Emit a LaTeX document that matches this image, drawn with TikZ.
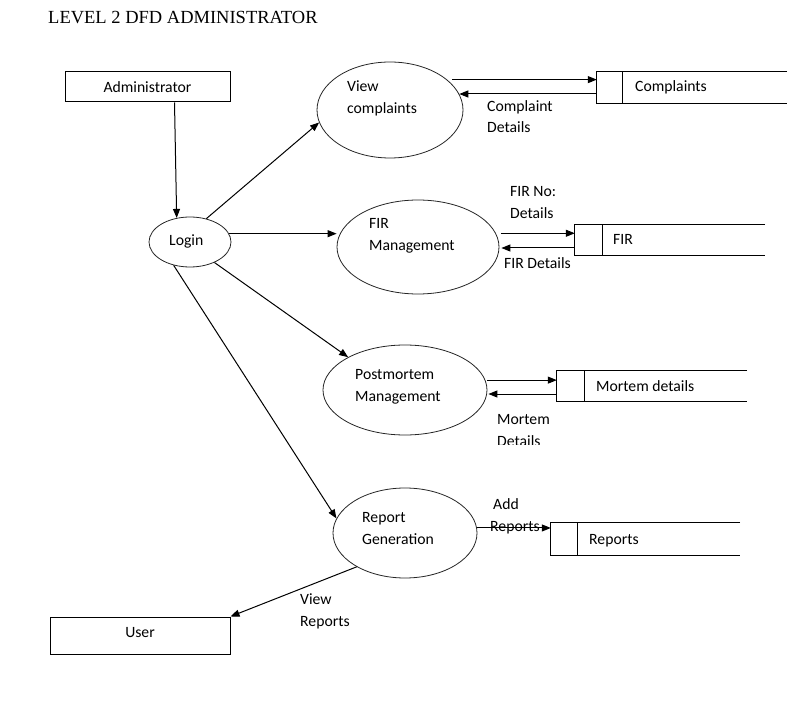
\documentclass[tikz,border=0pt]{standalone}
\usepackage{fontspec}
\setmainfont{Carlito}
\newfontfamily\titlefont{Liberation Serif}
\usetikzlibrary{shapes.geometric,arrows.meta}
\begin{document}
\begin{tikzpicture}[x=1pt,y=-1pt,
  font=\fontsize{15.7}{18}\selectfont,
  proc/.style={draw=black!85,line width=0.8pt,ellipse,inner sep=0pt},
  entity/.style={draw,line width=1pt,rectangle,inner sep=0pt},
  storebox/.style={rectangle,inner sep=0pt},
  lbl/.style={anchor=base west,inner sep=0pt},
  flow/.style={line width=1pt,-{Triangle[length=9pt,width=7pt]}},
  storeline/.style={line width=1pt}]
\useasboundingbox (0,0) rectangle (797,708);
\fill[white] (0,0) rectangle (797,708);

% title
\node[lbl,font=\titlefont\fontsize{18.5}{21}\selectfont] (title) at (48,24) {LEVEL 2 DFD ADMINISTRATOR};

% external entities
\node[entity,minimum width=165pt,minimum height=30pt] (adm) at (147.5,87) {Administrator};
\node[entity,minimum width=180pt,minimum height=37pt,text depth=6pt] (user) at (140,635.5) {User};

% processes
\node[proc,minimum width=146pt,minimum height=96pt] (vc) at (390,110) {};
\node[proc,minimum width=82pt,minimum height=50pt] (login) at (190,242) {};
\node[proc,minimum width=162pt,minimum height=94pt] (fir) at (418,247) {};
\node[proc,minimum width=164pt,minimum height=90pt] (pm) at (405,390) {};
\node[proc,minimum width=144pt,minimum height=90pt] (rg) at (405,533) {};

\node[lbl] (vct1) at (347,92) {View};
\node[lbl] (vct2) at (347,114) {complaints};
\node[lbl] (logt) at (169,246) {Login};
\node[lbl] (firt1) at (369,229) {FIR};
\node[lbl] (firt2) at (369,251) {Management};
\node[lbl] (pmt1) at (355,379) {Postmortem};
\node[lbl] (pmt2) at (355,401) {Management};
\node[lbl] (rgt1) at (362,522) {Report};
\node[lbl] (rgt2) at (362,544) {Generation};

% data stores
\node[storebox,minimum width=190pt,minimum height=31pt] (cs) at (692,87.5) {};
\node[storebox,minimum width=190pt,minimum height=30pt] (fs) at (670,240) {};
\node[storebox,minimum width=190pt,minimum height=30pt] (ms) at (652,386) {};
\node[storebox,minimum width=189pt,minimum height=32pt] (rs) at (645.5,539) {};

\foreach \s/\d in {cs/26,fs/28,ms/28,rs/27}{
  \draw[storeline] (\s.north east) -- (\s.north west) -- (\s.south west) -- (\s.south east);
  \draw[storeline] ([xshift=\d pt]\s.north west) -- ([xshift=\d pt]\s.south west);
}
\node[lbl] (cst) at (635,92) {Complaints};
\node[lbl] (fst) at (613,245) {FIR};
\node[lbl] (mst) at (596,391) {Mortem details};
\node[lbl] (rst) at (589,544) {Reports};

% flows
\draw[flow] ([xshift=27pt]adm.south) -- (login.119);
\draw[flow] (login.55) -- (vc.190);
\draw[flow] (login.12) -- (login.12 -| fir.west);
\draw[flow] (login.-40) -- (pm.150);
\draw[flow] (login.235) -- (rg.168);
\draw[flow] (rg.215) -- (user.north east);

\draw[flow] ([xshift=5pt]vc.28) -- (vc.28 -| cs.west);
\coordinate (csb) at ([yshift=-6.5pt]cs.west);
\draw[flow] (csb) -- (csb -| vc.-13);
\draw[flow] ([xshift=5pt]fir.10) -- (fir.10 -| fs.west);
\coordinate (fsb) at ([yshift=-8pt]fs.west);
\draw[flow] (fsb) -- ([xshift=2pt]fsb -| fir.east);
\draw[flow] ([xshift=2pt]pm.7) -- (pm.7 -| ms.west);
\coordinate (msb) at ([yshift=-8pt]ms.west);
\draw[flow] (msb) -- ([xshift=1pt]msb -| pm.east);
\draw[flow] (rg.4) -- (rg.4 -| rs.west);

% flow labels
\node[lbl] (l1a) at (487,111.5) {Complaint};
\node[lbl] (l1b) at (487,133) {Details};
\node[lbl] (l2a) at (510,197) {FIR No:};
\node[lbl] (l2b) at (510,219) {Details};
\node[lbl] (l3) at (504,269) {FIR Details};
\node[lbl] (l4a) at (497,424) {Mortem};
\begin{scope}
\clip (480,430) rectangle (600,444);
\node[lbl] (l4b) at (497,446) {Details};
\end{scope}
\node[lbl] (l5a) at (493,509) {Add};
\node[lbl] (l5b) at (490,531) {Reports};
\node[lbl] (l6a) at (300,604) {View};
\node[lbl] (l6b) at (300,626) {Reports};
\end{tikzpicture}
\end{document}
